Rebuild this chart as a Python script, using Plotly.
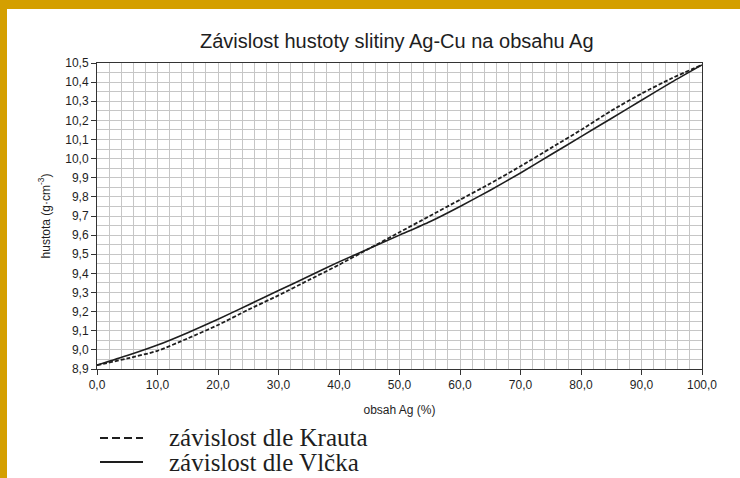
import plotly.graph_objects as go

# ---- data ----
ag_content = [0, 5, 10, 15, 20, 25, 30, 35, 40, 45, 50,
              55, 60, 65, 70, 75, 80, 85, 90, 95, 100]
density_kraut = [8.92, 8.955, 8.995, 9.06, 9.13, 9.21, 9.285, 9.365, 9.445, 9.53, 9.615,
                 9.70, 9.785, 9.87, 9.96, 10.055, 10.15, 10.25, 10.34, 10.42, 10.49]
density_vlcek = [8.92, 8.97, 9.025, 9.09, 9.16, 9.235, 9.31, 9.385, 9.46, 9.53, 9.60,
                 9.67, 9.75, 9.835, 9.925, 10.02, 10.115, 10.21, 10.305, 10.40, 10.49]

x_tick_vals = [0, 10, 20, 30, 40, 50, 60, 70, 80, 90, 100]
x_tick_text = ["0,0", "10,0", "20,0", "30,0", "40,0", "50,0",
               "60,0", "70,0", "80,0", "90,0", "100,0"]
y_tick_vals = [8.9, 9.0, 9.1, 9.2, 9.3, 9.4, 9.5, 9.6, 9.7, 9.8, 9.9,
               10.0, 10.1, 10.2, 10.3, 10.4, 10.5]
y_tick_text = ["8,9", "9,0", "9,1", "9,2", "9,3", "9,4", "9,5", "9,6", "9,7", "9,8", "9,9",
               "10,0", "10,1", "10,2", "10,3", "10,4", "10,5"]

series_names = ["závislost dle Krauta", "závislost dle Vlčka"]
title_text = "Závislost hustoty slitiny Ag-Cu na obsahu Ag"
x_title = "obsah Ag (%)"
y_title = "hustota (g·cm<sup>-3</sup>)"

# ---- layout geometry (pixels) ----
W, H = 740, 478
L, R, T, B = 97, 38, 63, 109
PW, PH = W - L - R, H - T - B

def px(xp):
    return (xp - L) / PW

def py(yp):
    return (H - B - yp) / PH

SANS = "Liberation Sans, Arial, sans-serif"
SERIF = "Liberation Serif, Times New Roman, serif"
INK = "#1e1e1e"
GRID = "#c6c6c6"
GOLD = "#d49f00"

fig = go.Figure()
fig.add_trace(go.Scatter(x=ag_content, y=density_kraut, mode="lines",
                         name=series_names[0], showlegend=False,
                         line=dict(color=INK, width=1.8, dash="4px,2px", shape="spline", smoothing=0.6)))
fig.add_trace(go.Scatter(x=ag_content, y=density_vlcek, mode="lines",
                         name=series_names[1], showlegend=False,
                         line=dict(color=INK, width=1.6, shape="spline", smoothing=0.6)))

axis_common = dict(showline=True, linecolor="#333333", linewidth=1, mirror=True,
                   ticks="outside", ticklen=5, tickcolor="#333333", tickwidth=1,
                   showgrid=True, gridcolor=GRID, gridwidth=1, zeroline=False,
                   tickfont=dict(family=SANS, size=12, color=INK))

fig.update_xaxes(range=[0, 100], tickmode="array", tickvals=x_tick_vals, ticktext=x_tick_text,
                 minor=dict(tickmode="linear", tick0=0, dtick=2, showgrid=True,
                            gridcolor=GRID, gridwidth=1, ticks=""),
                 title=dict(text=x_title, font=dict(family=SANS, size=12, color=INK), standoff=14),
                 **axis_common)
fig.update_yaxes(range=[8.9, 10.5], tickmode="array", tickvals=y_tick_vals, ticktext=y_tick_text,
                 minor=dict(tickmode="linear", tick0=8.9, dtick=0.05, showgrid=True,
                            gridcolor=GRID, gridwidth=1, ticks=""),
                 title=dict(text=y_title, font=dict(family=SANS, size=12, color=INK), standoff=12),
                 **axis_common)

shapes = [
    # golden frame (top and left)
    dict(type="rect", xref="paper", yref="paper", x0=px(0), x1=px(W), y0=py(9), y1=py(0),
         fillcolor=GOLD, line=dict(width=0), layer="above"),
    dict(type="rect", xref="paper", yref="paper", x0=px(0), x1=px(7), y0=py(H), y1=py(0),
         fillcolor=GOLD, line=dict(width=0), layer="above"),
    # legend symbols
    dict(type="line", xref="paper", yref="paper", x0=px(100), x1=px(143), y0=py(438), y1=py(438),
         line=dict(color=INK, width=2, dash="8px,4px")),
    dict(type="line", xref="paper", yref="paper", x0=px(100), x1=px(143), y0=py(462), y1=py(462),
         line=dict(color=INK, width=2)),
]

annotations = [
    dict(text=title_text, xref="paper", yref="paper", x=px(397), y=py(41),
         xanchor="center", yanchor="middle", showarrow=False,
         font=dict(family=SANS, size=20, color=INK)),
    dict(text=series_names[0], xref="paper", yref="paper", x=px(167), y=py(437),
         xanchor="left", yanchor="middle", showarrow=False,
         font=dict(family=SERIF, size=25, color=INK)),
    dict(text=series_names[1], xref="paper", yref="paper", x=px(167), y=py(462),
         xanchor="left", yanchor="middle", showarrow=False,
         font=dict(family=SERIF, size=25, color=INK)),
]

fig.update_layout(width=W, height=H, margin=dict(l=L, r=R, t=T, b=B, autoexpand=False),
                  paper_bgcolor="white", plot_bgcolor="white",
                  shapes=shapes, annotations=annotations, showlegend=False)

fig.write_html("out.html", config={"displayModeBar": False},
               post_script="document.body.style.margin='0px';document.body.style.overflow='hidden';")
